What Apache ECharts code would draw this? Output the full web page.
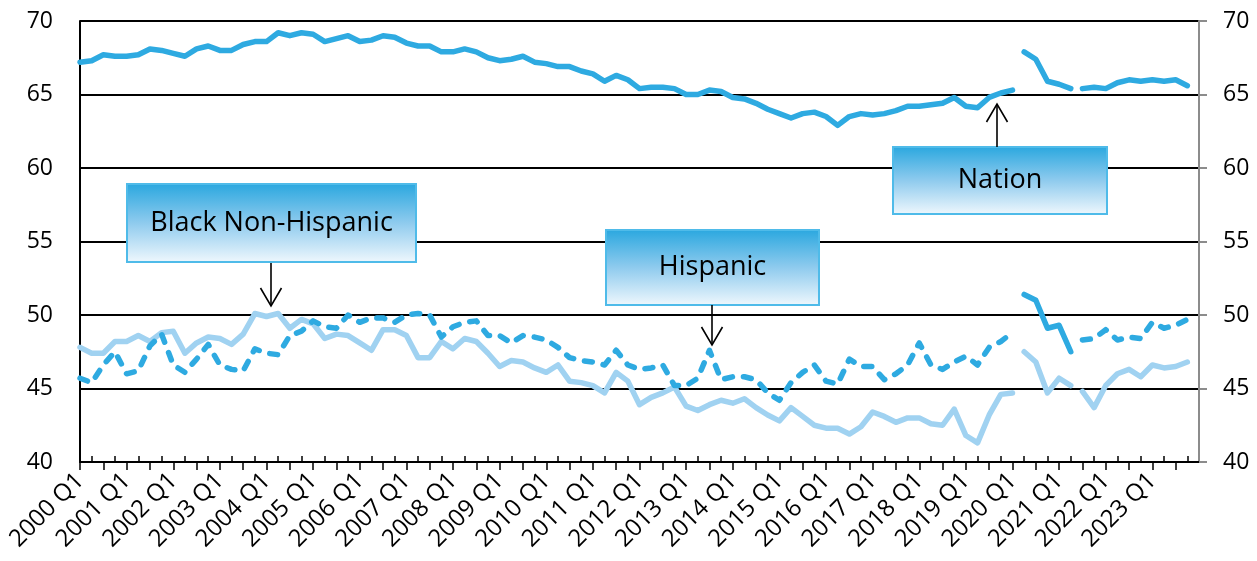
<!DOCTYPE html>
<html>
<head>
<meta charset="utf-8">
<style>
  html, body { margin: 0; padding: 0; background: #fff; }
  #chart { width: 1257px; height: 561px; }
</style>
<script src="https://cdn.jsdelivr.net/npm/echarts@6/dist/echarts.min.js"></script>
</head>
<body>
<div id="chart"></div>
<script>
// Quarters 2000 Q1 .. 2023 Q4
const years = [2000, 2001, 2002, 2003, 2004, 2005, 2006, 2007, 2008, 2009, 2010, 2011,
               2012, 2013, 2014, 2015, 2016, 2017, 2018, 2019, 2020, 2021, 2022, 2023];
const quarters = ['Q1', 'Q2', 'Q3', 'Q4'];
const categories = [];
years.forEach(y => quarters.forEach(q => categories.push(y + ' ' + q)));

// Y axis tick values (shared by both sides)
const yTicks = [40, 45, 50, 55, 60, 65, 70];

// Series values, one per quarter
const nation = [
  67.2, 67.3, 67.7, 67.6, 67.6, 67.7, 68.1, 68.0, 67.8, 67.6, 68.1, 68.3,
  68.0, 68.0, 68.4, 68.6, 68.6, 69.2, 69.0, 69.2, 69.1, 68.6, 68.8, 69.0,
  68.6, 68.7, 69.0, 68.9, 68.5, 68.3, 68.3, 67.9, 67.9, 68.1, 67.9, 67.5,
  67.3, 67.4, 67.6, 67.2, 67.1, 66.9, 66.9, 66.6, 66.4, 65.9, 66.3, 66.0,
  65.4, 65.5, 65.5, 65.4, 65.0, 65.0, 65.3, 65.2, 64.8, 64.7, 64.4, 64.0,
  63.7, 63.4, 63.7, 63.8, 63.5, 62.9, 63.5, 63.7, 63.6, 63.7, 63.9, 64.2,
  64.2, 64.3, 64.4, 64.8, 64.2, 64.1, 64.8, 65.1, 65.3, 67.9, 67.4, 65.9,
  65.7, 65.4, 65.4, 65.5, 65.4, 65.8, 66.0, 65.9, 66.0, 65.9, 66.0, 65.6
];
const hispanic = [
  45.7, 45.4, 46.6, 47.5, 46.0, 46.2, 47.9, 48.7, 46.6, 46.1, 47.0, 48.0,
  46.6, 46.3, 46.2, 47.7, 47.4, 47.3, 48.6, 48.9, 49.6, 49.2, 49.1, 50.0,
  49.5, 49.8, 49.8, 49.5, 50.0, 50.1, 50.0, 48.5, 49.2, 49.5, 49.6, 48.6,
  48.6, 48.1, 48.6, 48.5, 48.3, 47.8, 47.1, 46.9, 46.8, 46.6, 47.6, 46.6,
  46.3, 46.4, 46.6, 45.2, 45.2, 45.7, 47.6, 45.6, 45.8, 45.8, 45.6, 44.7,
  44.2, 45.4, 46.1, 46.6, 45.5, 45.3, 47.0, 46.5, 46.5, 45.6, 46.0, 46.6,
  48.1, 46.6, 46.3, 46.8, 47.2, 46.6, 47.8, 48.2, 48.8, 51.4, 51.0, 49.1,
  49.3, 47.5, 48.3, 48.4, 49.0, 48.3, 48.5, 48.4, 49.5, 49.1, 49.3, 49.7
];
const blackNonHispanic = [
  47.8, 47.4, 47.4, 48.2, 48.2, 48.6, 48.2, 48.8, 48.9, 47.4, 48.1, 48.5,
  48.4, 48.0, 48.7, 50.1, 49.9, 50.1, 49.1, 49.7, 49.4, 48.4, 48.7, 48.6,
  48.1, 47.6, 49.0, 49.0, 48.6, 47.1, 47.1, 48.2, 47.7, 48.4, 48.2, 47.4,
  46.5, 46.9, 46.8, 46.4, 46.1, 46.6, 45.5, 45.4, 45.2, 44.7, 46.1, 45.5,
  43.9, 44.4, 44.7, 45.1, 43.8, 43.5, 43.9, 44.2, 44.0, 44.3, 43.7, 43.2,
  42.8, 43.7, 43.1, 42.5, 42.3, 42.3, 41.9, 42.4, 43.4, 43.1, 42.7, 43.0,
  43.0, 42.6, 42.5, 43.6, 41.8, 41.3, 43.2, 44.6, 44.7, 47.5, 46.8, 44.7,
  45.7, 45.2, 44.8, 43.7, 45.2, 46.0, 46.3, 45.8, 46.6, 46.4, 46.5, 46.8
];

// The series are drawn in separate pieces: breaks after 2020 Q1 and 2021 Q2
const segments = [[0, 80], [81, 85], [86, 95]];

const BLUE = '#2eaae1';
const LIGHT = '#a0d2f1';
const FONT = '"Open Sans", "Noto Sans", sans-serif';

function piece(values, a, b) {
  return values.map((v, i) => (i >= a && i <= b) ? v : '-');
}

function lineSeries(name, values, color, dashedFor) {
  return segments.map(([a, b], k) => ({
    name: name,
    type: 'line',
    data: piece(values, a, b),
    symbol: 'none',
    connectNulls: false,
    animation: false,
    lineStyle: {
      color: color,
      width: 5.5,
      cap: 'round',
      join: 'round',
      type: dashedFor.includes(k) ? [8, 11] : 'solid'
    }
  }));
}

// one spare slot at the end so the right axis sits just past the last quarter
const axisCats = categories.concat(['']);
const lastIdx = categories.length;

const series = [].concat(
  lineSeries('Black Non-Hispanic', blackNonHispanic, LIGHT, []),
  lineSeries('Hispanic', hispanic, BLUE, [0, 2]),
  lineSeries('Nation', nation, BLUE, [])
);

function boxGradient() {
  return new echarts.graphic.LinearGradient(0, 0, 0, 1, [
    { offset: 0, color: '#29a7df' },
    { offset: 0.5, color: '#8fcbee' },
    { offset: 1, color: '#f0f8fd' }
  ]);
}

function labelBox(x, y, w, h, text) {
  return [
    {
      type: 'rect',
      z: 100,
      shape: { x: x, y: y, width: w, height: h },
      style: { fill: boxGradient(), stroke: '#4fbbe9', lineWidth: 2 }
    },
    {
      type: 'text',
      z: 101,
      x: x + w / 2,
      y: y + h / 2,
      style: {
        text: text, fill: '#000',
        fontSize: 27, fontFamily: FONT,
        align: 'center', verticalAlign: 'middle'
      }
    }
  ];
}

function arrow(x, y1, y2) {
  const dir = y2 > y1 ? 1 : -1;
  return [
    { type: 'line', z: 100, shape: { x1: x, y1: y1, x2: x, y2: y2 },
      style: { stroke: '#000', lineWidth: 1.6 } },
    { type: 'polyline', z: 100,
      shape: { points: [[x - 10.5, y2 - dir * 18], [x, y2], [x + 10.5, y2 - dir * 18]] },
      style: { stroke: '#000', lineWidth: 1.6, fill: null } }
  ];
}

const chart = echarts.init(document.getElementById('chart'), null, { renderer: 'canvas' });

chart.setOption({
  animation: false,
  backgroundColor: '#fff',
  grid: {
    left: 80, right: 58, top: 21, bottom: 99,
    containLabel: false, outerBoundsMode: 'none'
  },
  xAxis: [
    {
      type: 'category',
      data: axisCats,
      boundaryGap: false,
      position: 'bottom',
      axisLine: { show: true, lineStyle: { color: '#000', width: 2 } },
      axisTick: {
        show: true, inside: false, length: 8,
        interval: (i) => i % 2 === 0 && i < lastIdx,
        lineStyle: { color: '#000', width: 1.5 }
      },
      axisLabel: {
        interval: 3, rotate: 45, margin: 15, hideOverlap: false,
        color: '#000', fontSize: 24, fontFamily: FONT
      },
      splitLine: { show: false }
    },
    {
      type: 'category',
      data: axisCats,
      boundaryGap: false,
      position: 'bottom',
      axisLine: { show: false },
      axisTick: {
        show: true, inside: true, length: 6,
        interval: (i) => i % 2 === 1 && i < lastIdx,
        lineStyle: { color: '#000', width: 1.5 }
      },
      axisLabel: { show: false },
      splitLine: { show: false }
    }
  ],
  yAxis: [
    {
      type: 'value',
      position: 'left',
      min: yTicks[0], max: yTicks[yTicks.length - 1], interval: 5,
      axisLine: { show: true, lineStyle: { color: '#000', width: 2 } },
      axisTick: { show: false },
      axisLabel: { margin: 27, color: '#000', fontSize: 23, fontFamily: FONT },
      splitLine: { show: true, lineStyle: { color: '#000', width: 2 } }
    },
    {
      type: 'value',
      position: 'right',
      min: yTicks[0], max: yTicks[yTicks.length - 1], interval: 5,
      axisLine: { show: true, lineStyle: { color: '#8c8c8c', width: 2 } },
      axisTick: { show: true, inside: false, length: 8, lineStyle: { color: '#8c8c8c', width: 2 } },
      axisLabel: { margin: 24, color: '#000', fontSize: 23, fontFamily: FONT },
      splitLine: { show: false }
    }
  ],
  series: series,
  graphic: [].concat(
    labelBox(127, 184, 289, 78, 'Black Non-Hispanic'),
    arrow(271, 263, 306),
    labelBox(606, 230, 213, 75, 'Hispanic'),
    arrow(712, 305, 345),
    labelBox(893, 147, 214, 67, 'Nation'),
    arrow(997, 147, 104)
  )
});
</script>
</body>
</html>
